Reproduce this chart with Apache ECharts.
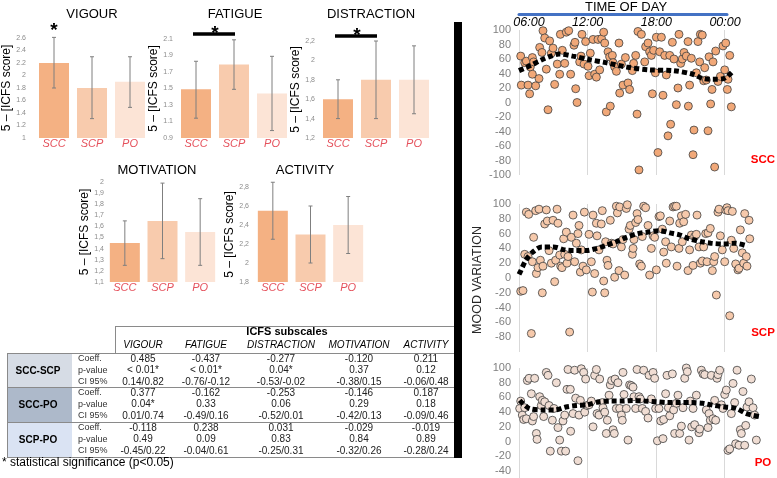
<!DOCTYPE html>
<html><head><meta charset="utf-8">
<script src="https://cdn.jsdelivr.net/npm/echarts@6/dist/echarts.min.js"></script>
<style>html,body{margin:0;padding:0;background:#fff}#c{width:777px;height:478px}</style>
</head><body><div id="c"></div>
<script>
// ---------------- DATA ----------------
const groups = ['SCC', 'SCP', 'PO'];

const vigourMean = [2.2, 1.8, 1.9];
const vigourLow = [1.8, 1.31, 1.49];
const vigourHigh = [2.61, 2.3, 2.3];
const vigourTicks = ['1', '1.2', '1.4', '1.6', '1.8', '2', '2.2', '2.4', '2.6'];
const vigourSig = [[0, 0]];

const fatigueMean = [1.49, 1.79, 1.44];
const fatigueLow = [1.14, 1.49, 0.99];
const fatigueHigh = [1.83, 2.09, 1.89];
const fatigueTicks = ['0.9', '1.1', '1.3', '1.5', '1.7', '1.9', '2.1'];
const fatigueSig = [[0, 1]];

const distractionMean = [1.6, 1.8, 1.8];
const distractionLow = [1.4, 1.4, 1.45];
const distractionHigh = [1.8, 2.2, 2.15];
const distractionTicks = ['1,2', '1,4', '1,6', '1,8', '2', '2,2'];
const distractionSig = [[0, 1]];

const motivationMean = [1.45, 1.65, 1.55];
const motivationLow = [1.25, 1.31, 1.25];
const motivationHigh = [1.65, 1.99, 1.85];
const motivationTicks = ['1,1', '1,2', '1,3', '1,4', '1,5', '1,6', '1,7', '1,8', '1,9', '2'];
const motivationSig = [];

const activityMean = [2.55, 2.3, 2.4];
const activityLow = [2.25, 2.0, 2.1];
const activityHigh = [2.85, 2.6, 2.7];
const activityTicks = ['1,8', '2', '2,2', '2,4', '2,6', '2,8'];
const activitySig = [];

const subscales = ['VIGOUR', 'FATIGUE', 'DISTRACTION', 'MOTIVATION', 'ACTIVITY'];
const comparisons = ['SCC-SCP', 'SCC-PO', 'SCP-PO'];
const statRows = ['Coeff.', 'p-value', 'CI 95%'];
const sccScpCoeff = ['0.485', '-0.437', '-0.277', '-0.120', '0.211'];
const sccScpP = ['< 0.01*', '< 0.01*', '0.04*', '0.37', '0.12'];
const sccScpCI = ['0.14/0.82', '-0.76/-0.12', '-0.53/-0.02', '-0.38/0.15', '-0.06/0.48'];
const sccPoCoeff = ['0.377', '-0.162', '-0.253', '-0.146', '0.187'];
const sccPoP = ['0.04*', '0.33', '0.06', '0.29', '0.18'];
const sccPoCI = ['0.01/0.74', '-0.49/0.16', '-0.52/0.01', '-0.42/0.13', '-0.09/0.46'];
const scpPoCoeff = ['-0.118', '0.238', '0.031', '-0.029', '-0.019'];
const scpPoP = ['0.49', '0.09', '0.83', '0.84', '0.89'];
const scpPoCI = ['-0.45/0.22', '-0.04/0.61', '-0.25/0.31', '-0.32/0.26', '-0.28/0.24'];

const timeTickHours = [6, 12, 18, 24];
const timeTickLabels = ['06:00', '12:00', '18:00', '00:00'];
const moodTicksA = ['-100', '-80', '-60', '-40', '-20', '0', '20', '40', '60', '80', '100'];
const moodTicksB = ['-60', '-40', '-20', '0', '20', '40', '60', '80', '100'];

const sccPoints = [[6.15,64],[6.2,24],[6.5,55],[6.64,57],[6.79,24],[6.93,12],[6.99,49],[7.17,62],[7.17,39],[7.28,56],[7.46,23],[7.75,33],[7.81,76],[8.01,69],[8.1,99],[8.25,89],[8.39,46],[8.54,-10],[8.68,85],[8.83,68],[8.98,75],[9.12,25],[9.35,53],[9.56,39],[9.62,94],[9.79,72],[10,54],[10.14,97],[10.35,99],[10.52,39],[10.81,79],[10.9,83],[10.96,19],[11.08,0],[11.31,56],[11.43,64],[11.51,94],[11.69,53],[11.83,84],[12.04,50],[12.13,37],[12.24,68],[12.48,87],[12.62,39],[12.77,35],[12.91,87],[13.06,45],[13.23,88],[13.41,97],[13.5,82],[13.64,-13],[13.79,70],[13.93,63],[13.99,-5],[14.17,65],[14.23,55],[14.37,49],[14.52,43],[14.75,82],[14.81,13],[14.96,53],[15.1,24],[15.31,62],[15.54,27],[15.68,18],[15.92,44],[16.03,54],[16.21,65],[16.33,-16],[16.41,98],[16.5,-93],[16.71,94],[17,56],[17.08,77],[17.29,82],[17.43,70],[17.58,65],[17.67,12],[17.78,72],[17.93,41],[18.02,90],[18.16,-69],[18.31,70],[18.46,90],[18.6,10],[18.75,65],[18.89,38],[19.04,-46],[19.19,65],[19.27,-30],[19.42,83],[19.56,60],[19.77,-3],[19.91,20],[20,94],[20.15,54],[20.29,60],[20.44,69],[20.64,64],[20.79,84],[20.82,-5],[20.93,24],[21.08,61],[21.23,-72],[21.31,-38],[21.52,41],[21.66,84],[21.81,56],[21.87,94],[22.04,93],[22.16,30],[22.25,48],[22.39,31],[22.54,-39],[22.63,63],[22.77,-2],[22.89,18],[22.98,56],[23.12,-89],[23.21,71],[23.41,29],[23.62,36],[23.85,78],[24,45],[24.09,82],[24.23,18],[24.29,32],[24.44,65],[24.58,-6]];
const sccTrend = [[6,44],[7,51],[8,59],[8.8,64],[9.5,67],[10.7,64],[12.2,59],[13.6,55],[15.4,49],[17.4,45],[19.5,44],[21.2,39],[22.1,33],[23,32],[23.9,33],[24.7,43]];

const scpPoints = [[6.15,-18],[6.35,-17],[6.5,32],[6.64,89],[6.85,86],[6.79,29],[7.08,-75],[7.17,22],[7.28,55],[7.46,91],[7.52,6],[7.66,14],[7.75,93],[7.87,24],[8.04,-20],[8.1,16],[8.25,73],[8.39,92],[8.48,77],[8.63,37],[8.83,20],[8.98,78],[9.12,-5],[9.21,24],[9.33,93],[9.41,74],[9.56,31],[9.65,16],[9.76,14],[9.91,53],[10,32],[10.14,62],[10.2,20],[10.29,29],[10.43,-73],[10.58,55],[10.73,85],[10.87,22],[11.02,47],[11.16,60],[11.25,71],[11.37,8],[11.45,38],[11.6,16],[11.72,89],[11.89,11],[12.13,59],[12.33,22],[12.42,-19],[12.48,85],[12.62,6],[12.77,74],[12.83,57],[13,38],[13.2,73],[13.29,91],[13.41,-4],[13.5,-20],[13.58,49],[13.7,24],[13.79,17],[13.99,78],[14.08,47],[14.23,46],[14.37,1],[14.52,97],[14.61,88],[14.75,10],[14.81,96],[14.96,42],[15.1,52],[15.25,4],[15.39,94],[15.48,99],[15.63,66],[15.74,71],[15.92,32],[15.98,40],[16.06,52],[16.21,75],[16.33,87],[16.41,79],[16.56,19],[16.71,16],[16.79,56],[16.91,97],[17.08,95],[17.29,71],[17.43,4],[17.58,40],[17.73,57],[17.87,55],[18.02,11],[18.25,83],[18.37,84],[18.54,66],[18.66,35],[18.83,49],[18.89,20],[19.19,77],[19.33,42],[19.48,96],[19.62,97],[19.77,97],[19.83,16],[20,40],[20.06,74],[20.21,84],[20.29,49],[20.41,76],[20.58,86],[20.79,10],[20.93,38],[21.08,58],[21.23,17],[21.37,56],[21.52,59],[21.58,85],[21.75,42],[21.87,20],[22.04,23],[22.16,42],[22.34,60],[22.45,22],[22.54,61],[22.74,67],[22.92,10],[23.04,22],[23.12,29],[23.27,-23],[23.41,89],[23.5,93],[23.62,57],[23.79,38],[24,22],[24.09,92],[24.2,95],[24.29,91],[24.44,-51],[24.58,51],[24.67,90],[24.79,40],[24.96,19],[25.16,11],[25.25,13],[25.37,65],[25.54,34],[25.66,20],[25.75,87],[25.89,29],[25.95,16],[26.13,78],[26.19,53]];
const scpTrend = [[6,5],[6.1,8],[6.6,24],[7.2,35],[8,42],[9,42],[10,38],[10.9,37],[11.9,37],[12.8,40],[13.6,44],[14.5,49],[15.4,55],[16.4,60],[17.3,62],[18.3,64],[19.2,61],[20.1,58],[20.9,53],[22,49],[22.8,47],[23.9,46],[24.9,47],[26,43]];

const poPoints = [[6.06,45],[6.15,55],[6.29,36],[6.41,30],[6.5,46],[6.64,31],[6.73,83],[6.88,86],[7.08,65],[7.17,28],[7.28,34],[7.37,86],[7.52,11],[7.58,3],[7.81,61],[7.95,49],[8.04,56],[8.16,34],[8.25,54],[8.39,94],[8.54,90],[8.63,49],[8.74,-13],[8.92,29],[9.06,45],[9.27,80],[9.41,19],[9.56,2],[9.7,-13],[9.85,28],[10,36],[10.08,-13],[10.2,71],[10.29,98],[10.49,71],[10.52,14],[10.73,38],[10.87,97],[10.96,59],[11.16,-26],[11.25,36],[11.37,56],[11.45,99],[11.66,94],[11.75,40],[11.83,85],[11.95,49],[12.13,50],[12.33,55],[12.48,20],[12.62,90],[12.77,98],[12.83,38],[13,36],[13.06,85],[13.29,53],[13.35,46],[13.5,40],[13.64,11],[13.73,29],[13.88,63],[13.99,77],[14.11,83],[14.23,16],[14.34,11],[14.4,85],[14.52,45],[14.66,80],[14.81,45],[14.96,36],[15.04,29],[15.1,94],[15.19,64],[15.39,45],[15.54,2],[15.68,77],[15.83,76],[15.98,74],[16.06,61],[16.21,45],[16.33,98],[16.5,61],[16.62,58],[16.79,45],[16.91,97],[17.08,41],[17.29,32],[17.38,90],[17.58,58],[17.73,94],[17.87,86],[17.96,45],[18.11,1],[18.25,45],[18.4,28],[18.6,4],[18.66,30],[18.83,65],[18.95,90],[19.07,46],[19.19,35],[19.42,92],[19.53,43],[19.62,11],[19.77,52],[19.91,63],[20.06,11],[20.21,21],[20.35,46],[20.5,86],[20.64,100],[20.73,95],[20.88,2],[20.99,55],[21.11,20],[21.23,45],[21.37,23],[21.52,63],[21.75,12],[21.81,17],[21.96,97],[22.1,92],[22.25,91],[22.39,43],[22.54,19],[22.63,38],[22.74,29],[22.83,90],[22.98,31],[23.12,56],[23.21,29],[23.33,86],[23.41,91],[23.56,97],[23.71,50],[23.85,45],[24,64],[24.14,70],[24.29,-12],[24.44,-10],[24.58,38],[24.73,79],[24.87,53],[24.96,-3],[25.08,97],[25.25,-5],[25.37,16],[25.46,11],[25.6,68],[25.75,-5],[25.84,22],[25.95,47],[26.13,54],[26.33,85],[26.48,46],[26.62,36],[26.77,2]];
const poTrend = [[6.06,56],[6.9,45],[8.1,43],[9.1,43],[10.1,47],[11,49],[12,50],[13,54],[14.1,55],[15.1,55],[16,56],[17,55],[18,54],[19,53],[20,53],[21.1,53],[22.1,52],[23.1,49],[24,47],[25,45],[25.9,38],[27,34]];

// ---------------- STYLE / LAYOUT ----------------
const FF = "'Liberation Sans', Arial, Helvetica, sans-serif";
const barColors = ['#F4B183', '#F8CBAD', '#FCE4D6'];
const catColor = '#E5515C';

const barPanels = [
  {title:'VIGOUR', mean:vigourMean, low:vigourLow, high:vigourHigh, ticks:vigourTicks, sig:vigourSig, box:[35,38,114,100], tx:92, ty:14, gap:13, lm:9},
  {title:'FATIGUE', mean:fatigueMean, low:fatigueLow, high:fatigueHigh, ticks:fatigueTicks, sig:fatigueSig, box:[177,39,114,99], tx:235, ty:14, gap:12, lm:4},
  {title:'DISTRACTION', mean:distractionMean, low:distractionLow, high:distractionHigh, ticks:distractionTicks, sig:distractionSig, box:[319,41,114,97], tx:371, ty:14, gap:13, lm:4},
  {title:'MOTIVATION', mean:motivationMean, low:motivationLow, high:motivationHigh, ticks:motivationTicks, sig:motivationSig, box:[106,182,113,100], tx:157, ty:170, gap:9, lm:2},
  {title:'ACTIVITY', mean:activityMean, low:activityLow, high:activityHigh, ticks:activityTicks, sig:activitySig, box:[254,187,113,95], tx:305, ty:170, gap:18, lm:5}
];

const scatterPanels = [
  {name:'SCC', pts:sccPoints, trend:sccTrend, ticks:moodTicksA, box:[519,30,245.7,145], fill:'#F1A878', lx:763, ly:160, hideMin:false},
  {name:'SCP', pts:scpPoints, trend:scpTrend, ticks:moodTicksA, box:[519,204,245.7,148], fill:'#F6C9AB', lx:763, ly:333, hideMin:true},
  {name:'PO', pts:poPoints, trend:poTrend, ticks:moodTicksB, box:[519,368,245.7,117.7], fill:'#F0DDD3', lx:763, ly:463, hideMin:true}
];

const grid = [], xAxis = [], yAxis = [], series = [], graphic = [];
const num = s => parseFloat(s.replace(',', '.'));
function tickFormatter(ticks) {
  const nums = ticks.map(num);
  return v => { const i = nums.findIndex(n => Math.abs(n - v) < 1e-6); return i >= 0 ? ticks[i] : ''; };
}
function txt(text, x, y, o) {
  o = o || {};
  return {type:'text', x:x, y:y, rotation:o.rot || 0, silent:true, z:100,
    style:{text:text, fill:o.color || '#000', fontSize:o.size || 12, fontFamily:FF,
      fontWeight:o.weight || 'normal', fontStyle:o.style || 'normal',
      align:o.align || 'center', textAlign:o.align || 'center',
      verticalAlign:o.va || 'middle', textVerticalAlign:o.va || 'middle'}};
}

barPanels.forEach((p, i) => {
  const nums = p.ticks.map(num);
  grid.push({left:p.box[0], top:p.box[1], width:p.box[2], height:p.box[3], containLabel:false, outerBoundsMode:'none'});
  xAxis.push({type:'category', gridIndex:i, data:groups, axisLine:{show:false}, axisTick:{show:false},
    axisLabel:{color:catColor, fontStyle:'italic', fontSize:11, fontFamily:FF, margin:0}});
  yAxis.push({type:'value', gridIndex:i, min:nums[0], max:nums[nums.length-1], interval:+(nums[1]-nums[0]).toFixed(4),
    axisLine:{show:false}, axisTick:{show:false}, splitLine:{show:false},
    axisLabel:{color:'#8c8c8c', fontSize:7, fontFamily:FF, margin:p.lm, formatter:tickFormatter(p.ticks)},
    name:'5 \u2013 [ICFS score]', nameLocation:'middle', nameRotate:90, nameGap:p.gap,
    nameTextStyle:{color:'#000', fontSize:12, fontFamily:FF}});
  series.push({type:'bar', xAxisIndex:i, yAxisIndex:i, barWidth:30, animation:false,
    data:p.mean.map((v, k) => ({value:v, itemStyle:{color:barColors[k]}}))});
  series.push({type:'custom', xAxisIndex:i, yAxisIndex:i, z:5, animation:false, clip:false,
    data:groups.map((g, k) => [k, p.low[k], p.high[k]]),
    encode:{x:0, y:[1, 2]},
    renderItem:(params, api) => {
      const a = api.coord([api.value(0), api.value(2)]);
      const b = api.coord([api.value(0), api.value(1)]);
      const st = {stroke:'#7f7f7f', lineWidth:1};
      return {type:'group', children:[
        {type:'line', shape:{x1:a[0], y1:a[1], x2:b[0], y2:b[1]}, style:st},
        {type:'line', shape:{x1:a[0]-2, y1:a[1], x2:a[0]+2, y2:a[1]}, style:st},
        {type:'line', shape:{x1:b[0]-2, y1:b[1], x2:b[0]+2, y2:b[1]}, style:st}
      ]};
    }});
  if (p.sig.length) {
    series.push({type:'custom', xAxisIndex:i, yAxisIndex:i, z:6, animation:false, clip:false,
      data:p.sig, encode:{x:[0, 1]},
      renderItem:(params, api) => {
        const top = params.coordSys.y;
        const x1 = api.coord([api.value(0), nums[0]])[0];
        const x2 = api.coord([api.value(1), nums[0]])[0];
        const y = top - 5;
        const ch = [];
        if (x2 > x1) ch.push({type:'line', shape:{x1:x1 - 3, y1:y, x2:x2 + 1, y2:y}, style:{stroke:'#000', lineWidth:3.5}});
        ch.push({type:'text', x:(x1 + x2) / 2, y:y + (x2 > x1 ? 0 : -2),
          style:{text:'*', fill:'#000', fontSize:19, fontFamily:FF, fontWeight:'bold', align:'center', verticalAlign:'middle'}});
        return {type:'group', children:ch};
      }});
  }
  graphic.push(txt(p.title, p.tx, p.ty, {size:13}));
});

scatterPanels.forEach((p, j) => {
  const i = barPanels.length + j;
  const nums = p.ticks.map(num);
  grid.push({left:p.box[0], top:p.box[1], width:p.box[2], height:p.box[3], containLabel:false, outerBoundsMode:'none'});
  xAxis.push({type:'value', gridIndex:i, min:6, max:27.5, interval:6,
    axisLine:{show:false}, axisTick:{show:false}, axisLabel:{show:false},
    splitLine:{show:true, showMaxLine:false, lineStyle:{color:'#D9D9D9', width:1}}});
  yAxis.push({type:'value', gridIndex:i, min:nums[0], max:nums[nums.length-1], interval:20,
    axisLine:{show:false}, axisTick:{show:false}, splitLine:{show:false},
    axisLabel:{color:'#808080', fontSize:11, fontFamily:FF, margin:8, showMinLabel:!p.hideMin, formatter:tickFormatter(p.ticks)}});
  series.push({type:'scatter', xAxisIndex:i, yAxisIndex:i, data:p.pts, symbol:'circle', symbolSize:8, animation:false,
    itemStyle:{color:p.fill, borderColor:'#404040', borderWidth:0.8, opacity:1}, z:2});
  series.push({type:'line', xAxisIndex:i, yAxisIndex:i, data:p.trend, showSymbol:false, smooth:0.3, animation:false, z:4,
    lineStyle:{color:'#000', width:5, type:[5, 3], cap:'butt'}});
  graphic.push(txt(p.name, p.lx, p.ly, {color:'#FF0000', weight:'bold', size:11.5}));
});

// time-of-day axis
const ti = grid.length;
grid.push({left:519, top:13, width:208, height:1, containLabel:false, outerBoundsMode:'none'});
xAxis.push({type:'value', gridIndex:ti, position:'top', min:6, max:24.17, interval:6,
  axisLine:{show:true, lineStyle:{color:'#4472C4', width:3}}, axisTick:{show:false}, splitLine:{show:false},
  axisLabel:{inside:true, margin:3, color:'#000', fontStyle:'italic', fontSize:12.5, fontFamily:FF,
    rich:{first:{padding:[0, 0, 0, 20], color:'#000', fontStyle:'italic', fontSize:12.5, fontFamily:FF}},
    formatter:v => {
      const k = timeTickHours.indexOf(Math.round(v * 100) / 100);
      if (k < 0) return '';
      return k === 0 ? '{first|' + timeTickLabels[k] + '}' : timeTickLabels[k];
    }}});
yAxis.push({type:'value', gridIndex:ti, show:false});
graphic.push(txt('TIME OF DAY', 626, 7, {size:13}));
graphic.push(txt('MOOD VARIATION', 478, 280, {size:12.5, rot:Math.PI / 2, color:'#262626'}));

// black separator
graphic.push({type:'rect', shape:{x:454, y:22, width:8, height:436}, style:{fill:'#000'}, silent:true, z:90});

// ---------------- TABLE ----------------
const tableVals = [[sccScpCoeff, sccScpP, sccScpCI], [sccPoCoeff, sccPoP, sccPoCI], [scpPoCoeff, scpPoP, scpPoCI]];
const colX = [143, 206, 281, 359, 426];
const blockTop = [353, 387, 422, 457];
const blockFill = ['#D6DCE5', '#ADB9CA', '#DAE3F3'];
const lineSt = {stroke:'#8a8a8a', lineWidth:1};
graphic.push(txt('ICFS subscales', 287, 332, {size:11, weight:'bold'}));
subscales.forEach((s, c) => graphic.push(txt(s, colX[c], 345, {size:10, style:'italic'})));
graphic.push({type:'line', shape:{x1:115.5, y1:326, x2:115.5, y2:353}, style:lineSt, z:50});
graphic.push({type:'line', shape:{x1:115, y1:326.5, x2:455, y2:326.5}, style:lineSt, z:50});
comparisons.forEach((cmp, g) => {
  const t = blockTop[g], b = blockTop[g + 1];
  graphic.push({type:'rect', shape:{x:7, y:t, width:65, height:b - t}, style:{fill:blockFill[g]}, z:40});
  graphic.push(txt(cmp, 38, (t + b) / 2 + 1, {size:10, weight:'bold'}));
  statRows.forEach((r, k) => {
    const y = t + 6 + k * 11.4;
    graphic.push(txt(r, 78, y, {size:9, align:'left', color:'#333'}));
    tableVals[g][k].forEach((v, c) => graphic.push(txt(v, colX[c], y, {size:10, color:'#222'})));
  });
});
blockTop.forEach(y => graphic.push({type:'line', shape:{x1:7, y1:y + 0.5, x2:455, y2:y + 0.5}, style:lineSt, z:50}));
graphic.push({type:'line', shape:{x1:7.5, y1:353, x2:7.5, y2:457}, style:lineSt, z:50});
graphic.push(txt('* statistical significance (p<0.05)', 2, 463, {size:12, align:'left'}));

const chart = echarts.init(document.getElementById('c'), null, {renderer:'canvas', width:777, height:478});
chart.setOption({animation:false, backgroundColor:'#fff', grid, xAxis, yAxis, series, graphic:{elements:graphic}});
</script></body></html>
